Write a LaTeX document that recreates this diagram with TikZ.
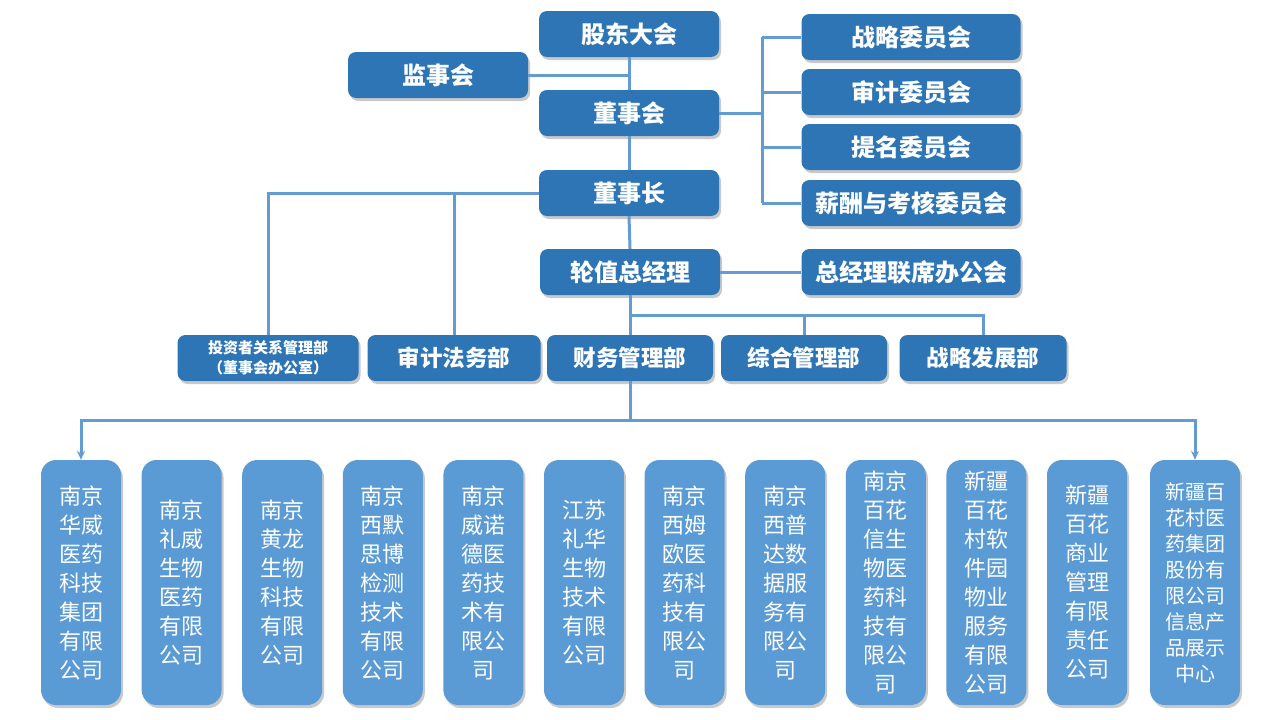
\documentclass[tikz,border=0pt]{standalone}
\usepackage{fontspec}
\setmainfont{Noto Sans CJK SC}
\usetikzlibrary{shadows,arrows.meta}
\definecolor{dkblue}{RGB}{46,117,182}
\definecolor{ltblue}{RGB}{91,155,213}
\definecolor{lnblue}{RGB}{100,155,210}
\begin{document}
\begin{tikzpicture}[x=1pt,y=-1pt,
  topbox/.style={fill=dkblue, rounded corners=8pt, minimum width=180pt, minimum height=46pt, inner sep=0pt, text=white, align=center,
    font=\bfseries\fontsize{24}{27}\selectfont, drop shadow={shadow xshift=2pt, shadow yshift=-3pt, opacity=0.35, fill=black!60}},
  combox/.style={topbox, minimum width=219pt},
  deptbox/.style={topbox, font=\bfseries\fontsize{22.5}{25}\selectfont},
  subbox/.style={fill=ltblue, rounded corners=15pt, minimum width=80pt, minimum height=245pt, inner sep=0pt, text=white, align=center,
    font=\fontsize{22}{29}\selectfont, drop shadow={shadow xshift=2pt, shadow yshift=-3pt, opacity=0.35, fill=black!60}},
  conn/.style={draw=lnblue, line width=3pt},
  arr/.style={conn, -{Stealth[length=9pt,width=8pt]}}
]
\useasboundingbox (0,0) rectangle (1280,720);
\fill[white] (0,0) rectangle (1280,720);

% top level
\node[topbox] (gd) at (629,34) {股东大会};
\node[topbox] (jsh) at (438,75) {监事会};
\node[topbox] (dsh) at (629,113) {董事会};
\node[topbox] (dsz) at (629,193) {董事长};
\node[topbox] (zjl) at (630,272) {轮值总经理};

% committees
\node[combox] (c1) at (911,37) {战略委员会};
\node[combox] (c2) at (911,92) {审计委员会};
\node[combox] (c3) at (911,147) {提名委员会};
\node[combox] (c4) at (911,203) {薪酬与考核委员会};
\node[combox] (lx) at (911,272) {总经理联席办公会};

% departments
\node[deptbox, minimum width=181pt, font=\bfseries\fontsize{15}{20}\selectfont] (tz) at (268,358) {投资者关系管理部\\（董事会办公室）};
\node[deptbox, minimum width=173pt] (sj) at (454,358) {审计法务部};
\node[deptbox, minimum width=166pt] (cw) at (630,358) {财务管理部};
\node[deptbox, minimum width=166pt] (zh) at (804,358) {综合管理部};
\node[deptbox, minimum width=167pt] (zl) at (983,358) {战略发展部};

% subsidiaries
\node[subbox] (s1) at (81,582.5) {南京\\华威\\医药\\科技\\集团\\有限\\公司};
\node[subbox] (s2) at (181.6,582.5) {南京\\礼威\\生物\\医药\\有限\\公司};
\node[subbox] (s3) at (282.2,582.5) {南京\\黄龙\\生物\\科技\\有限\\公司};
\node[subbox] (s4) at (382.8,582.5) {南京\\西默\\思博\\检测\\技术\\有限\\公司};
\node[subbox] (s5) at (483.4,582.5) {南京\\威诺\\德医\\药技\\术有\\限公\\司};
\node[subbox] (s6) at (584,582.5) {江苏\\礼华\\生物\\技术\\有限\\公司};
\node[subbox] (s7) at (684.6,582.5) {南京\\西姆\\欧医\\药科\\技有\\限公\\司};
\node[subbox] (s8) at (785.2,582.5) {南京\\西普\\达数\\据服\\务有\\限公\\司};
\node[subbox] (s9) at (885.8,582.5) {南京\\百花\\信生\\物医\\药科\\技有\\限公\\司};
\node[subbox] (s10) at (986.4,582.5) {新疆\\百花\\村软\\件园\\物业\\服务\\有限\\公司};
\node[subbox] (s11) at (1087,582.5) {新疆\\百花\\商业\\管理\\有限\\责任\\公司};
\node[subbox, minimum width=90pt, font=\fontsize{20}{26}\selectfont] (s12) at (1195,582.5) {新疆百\\花村医\\药集团\\股份有\\限公司\\信息产\\品展示\\中心};

% connectors
\coordinate (cbus) at (762,113);
\coordinate (mbus) at (630,315);
\coordinate (bbus) at (630,420);

\draw[conn] (gd.south) -- (dsh.north);
\draw[conn] (jsh.east) -- (jsh.east -| gd.south);
\draw[conn] (dsh.south) -- (dsz.north);
\draw[conn] (dsz.south) -- (zjl.north);
\draw[conn] (dsh.east) -- (cbus);
\draw[conn] (cbus |- c1.west) -- (cbus |- c4.west);
\foreach \c in {c1,c2,c3,c4} \draw[conn] (cbus |- \c.west) -- (\c.west);
\draw[conn] (dsz.west) -| (tz.north);
\draw[conn] (sj.north) -- (sj.north |- dsz.west);
\draw[conn] (zjl.east) -- (lx.west);
\draw[conn] (zjl.south) -- (cw.north);
\draw[conn] (mbus) -| (zl.north);
\draw[conn] (zh.north) -- (zh.north |- mbus);
\draw[conn] (cw.south) -- (bbus);
\draw[arr] (bbus) -| (s1.north);
\draw[arr] (bbus) -| (s12.north);
\end{tikzpicture}
\end{document}
